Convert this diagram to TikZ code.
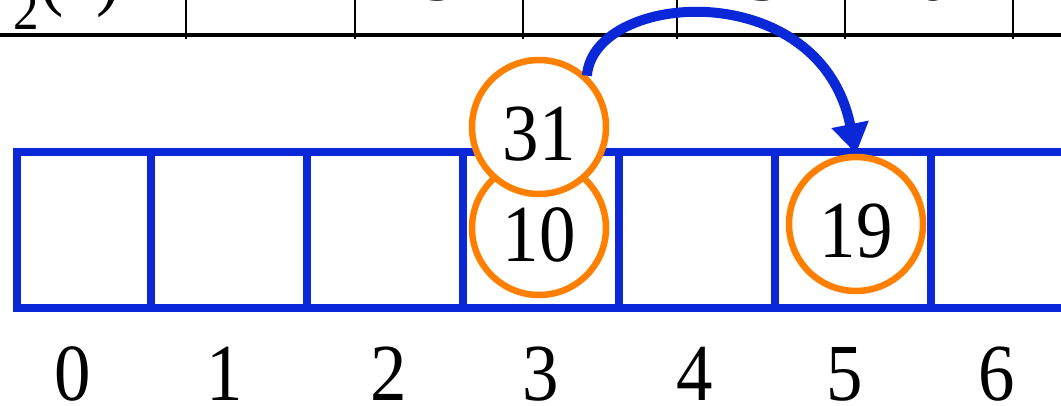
\documentclass[tikz,border=0pt]{standalone}
\usepackage{fontspec}
\setmainfont{Liberation Serif}[FakeStretch=0.9]
\usetikzlibrary{arrows.meta}
\definecolor{slotblue}{RGB}{10,40,215}
\definecolor{keyorange}{RGB}{255,128,0}
\tikzset{
    slotbox/.style={draw=slotblue, line width=8pt, minimum height=156pt, inner sep=0pt},
    keycirc/.style={circle, draw=keyorange, line width=6.5pt, fill=white, minimum size=134pt, inner sep=0pt, text height=67pt, text depth=0pt},
    hasharrow/.style={arrows={-Triangle[length=30pt,width=36pt]}, draw=slotblue, line width=10pt},
    tabline/.style={black, line width=2pt}
}

\begin{document}
\begin{tikzpicture}[x=1pt, y=-1pt, font=\fontsize{81pt}{90pt}\selectfont]
    \useasboundingbox (0,0) rectangle (1061,406);
    \clip (0,0) rectangle (1061,406);

    % table of h2 values, cut at the top
    \node[anchor=base east] (hname) at (124,1) {\textit{h}\textsubscript{2}(\textit{x})};
    \node[anchor=base] (hv1) at (270,1) {4};
    \node[anchor=base] (hv2) at (440,1) {3};
    \node[anchor=base] (hv3) at (600,1) {2};
    \node[anchor=base] (hv4) at (765,1) {3};
    \node[anchor=base] (hv5) at (932,1) {6};
    \draw[black, line width=4.5pt] (0,35) -- (1061,35);
    \draw[tabline] (186,-5) -- (186,39);
    \draw[tabline] (355,-5) -- (355,39);
    \draw[tabline] (523,-5) -- (523,39);
    \draw[tabline] (677,-5) -- (677,39);
    \draw[tabline] (845,-5) -- (845,39);
    \draw[tabline] (1013,-5) -- (1013,39);

    % the slots of the table
    \node[slotbox, minimum width=134pt] (s0) at (84,230) {};
    \node[slotbox, minimum width=156pt] (s1) at (229,230) {};
    \node[slotbox, minimum width=156pt] (s2) at (385,230) {};
    \node[slotbox, minimum width=156pt] (s3) at (541,230) {};
    \node[slotbox, minimum width=156pt] (s4) at (697,230) {};
    \node[slotbox, minimum width=156pt] (s5) at (853,230) {};
    \node[slotbox, minimum width=156pt] (s6) at (1009,230) {};

    \node[anchor=base] (i0) at (73,400) {0};
    \node[anchor=base] (i1) at (225,400) {1};
    \node[anchor=base] (i2) at (389,400) {2};
    \node[anchor=base] (i3) at (541,400) {3};
    \node[anchor=base] (i4) at (695,400) {4};
    \node[anchor=base] (i5) at (845,400) {5};
    \node[anchor=base] (i6) at (997,400) {6};

    % keys
    \node[keycirc] (k10) at (539,228) {10};
    \node[keycirc] (k31) at (539,127) {31};
    \node[keycirc] (k19) at (856,224) {19};

    \draw[hasharrow] (k31.47) .. controls +(7,-85) and +(-36,-179) .. (k19.north);
\end{tikzpicture}
\end{document}
